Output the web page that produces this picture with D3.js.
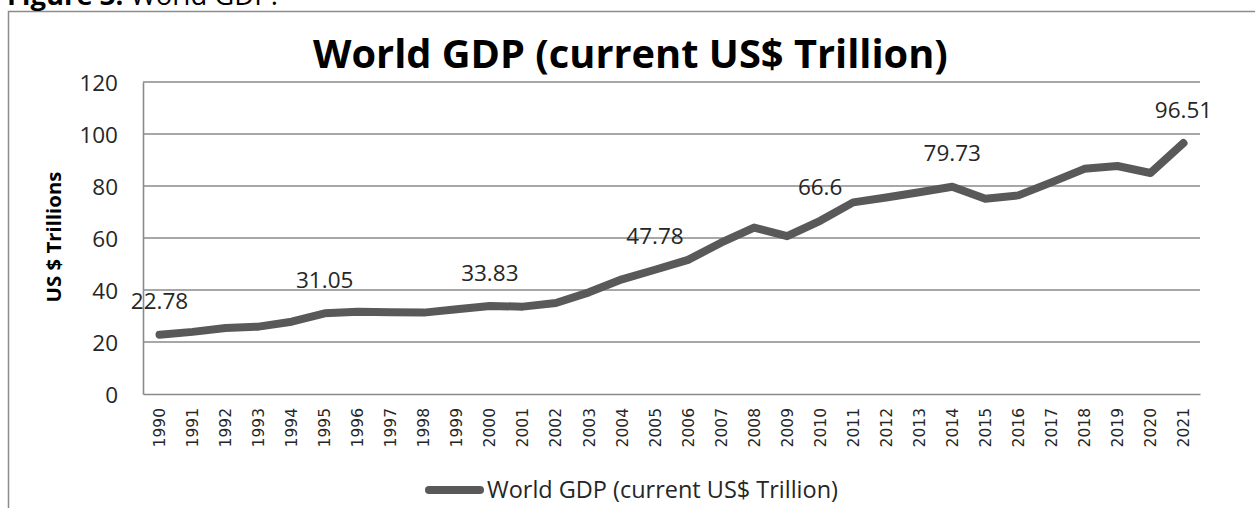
<!DOCTYPE html>
<html>
<head>
<meta charset="utf-8">
<script src="https://cdn.jsdelivr.net/npm/d3@7"></script>
<style>
  html, body { margin: 0; padding: 0; background: #fff; }
  svg { display: block; }
</style>
</head>
<body>
<svg id="chart" width="1255" height="508"></svg>
<script>
// World GDP, current US$ trillion
const years = ["1990","1991","1992","1993","1994","1995","1996","1997","1998","1999",
               "2000","2001","2002","2003","2004","2005","2006","2007","2008","2009",
               "2010","2011","2012","2013","2014","2015","2016","2017","2018","2019",
               "2020","2021"];
const gdp = [22.78, 23.9, 25.4, 25.9, 27.8, 31.05, 31.6, 31.4, 31.3, 32.6,
             33.83, 33.6, 35.0, 39.1, 44.1, 47.78, 51.6, 58.2, 64.0, 60.7,
             66.6, 73.7, 75.6, 77.6, 79.73, 75.1, 76.4, 81.4, 86.6, 87.7,
             85.0, 96.51];
// years whose value is printed above the line
const labelledYears = ["1990","1995","2000","2005","2010","2014","2021"];
const yTicks = [0, 20, 40, 60, 80, 100, 120];

const captionBold = "Figure 3:";
const captionRest = " World GDP:";
const chartTitle = "World GDP (current US$ Trillion)";
const yAxisTitle = "US $ Trillions";
const legendLabel = "World GDP (current US$ Trillion)";

const svg = d3.select("#chart");
const gridColor = "#8a8a8a";
const lineColor = "#595959";
const textColor = "#262626";
const sans = "'Open Sans', 'Noto Sans', sans-serif";

// shrink or grow a text element's font size so it spans a given width
function fitWidth(sel, target) {
  const node = sel.node();
  const fs = parseFloat(sel.attr("font-size"));
  const w = node.getComputedTextLength();
  sel.attr("font-size", (fs * target / w).toFixed(2));
}

// outer frame (left and top edges)
svg.append("path")
  .attr("d", "M8.5,508 V11.5 H1255")
  .attr("fill", "none")
  .attr("stroke", "#8c8c8c")
  .attr("stroke-width", 1.5);

// caption above the frame
const cap = svg.append("text")
  .attr("x", 7).attr("y", 5)
  .attr("font-family", sans).attr("font-size", 21)
  .attr("fill", "#000");
cap.append("tspan").attr("font-weight", "bold").text(captionBold);
cap.append("tspan").text(captionRest);
fitWidth(cap, 271);

const x = d3.scaleBand().domain(years).range([143, 1200]).paddingInner(0).paddingOuter(0);
const y = d3.scaleLinear().domain([0, 120]).range([394, 82]);
const cx = d => x(d) + x.bandwidth() / 2;

// horizontal gridlines
svg.append("g")
  .selectAll("line")
  .data(yTicks.filter(t => t > 0))
  .join("line")
  .attr("x1", 143).attr("x2", 1200)
  .attr("y1", d => y(d)).attr("y2", d => y(d))
  .attr("stroke", gridColor).attr("stroke-width", 1.6);

// y axis
const yAxis = svg.append("g")
  .attr("transform", "translate(143,0)")
  .call(d3.axisLeft(y).tickValues(yTicks).tickSize(0).tickPadding(25));
yAxis.select(".domain").attr("stroke", gridColor).attr("stroke-width", 1.6);
yAxis.selectAll("text")
  .attr("font-family", sans).attr("font-size", 22.5)
  .attr("fill", textColor).attr("dy", "0.36em");

// x axis
const xAxis = svg.append("g")
  .attr("transform", "translate(0,394)")
  .call(d3.axisBottom(x).tickSize(0).tickPadding(0));
xAxis.select(".domain").attr("stroke", gridColor).attr("stroke-width", 1.6);
xAxis.selectAll("text")
  .attr("font-family", "'DejaVu Sans', sans-serif")
  .attr("font-size", 15.5)
  .attr("fill", textColor)
  .attr("text-anchor", "end")
  .attr("transform", "translate(0,14) rotate(-90)")
  .attr("x", 0).attr("y", 0)
  .attr("dy", "0.36em");

// y axis title
const yt = svg.append("text")
  .attr("transform", "translate(61,237) rotate(-90)")
  .attr("text-anchor", "middle")
  .attr("font-family", sans).attr("font-weight", "bold").attr("font-size", 18)
  .attr("fill", "#000")
  .text(yAxisTitle);
fitWidth(yt, 131);

// chart title
const title = svg.append("text")
  .attr("x", 313).attr("y", 68)
  .attr("font-family", sans).attr("font-weight", "bold").attr("font-size", 34)
  .attr("fill", "#000")
  .text(chartTitle);
fitWidth(title, 635);

// GDP line
const series = years.map((yr, i) => ({ yr, v: gdp[i] }));
svg.append("path")
  .datum(series)
  .attr("fill", "none")
  .attr("stroke", lineColor)
  .attr("stroke-width", 8)
  .attr("stroke-linejoin", "round")
  .attr("stroke-linecap", "round")
  .attr("d", d3.line().x(d => cx(d.yr)).y(d => y(d.v)));

// value labels
svg.append("g")
  .selectAll("text")
  .data(series.filter(d => labelledYears.includes(d.yr)))
  .join("text")
  .attr("x", d => cx(d.yr))
  .attr("y", d => y(d.v) - 25.5)
  .attr("text-anchor", "middle")
  .attr("font-family", sans).attr("font-size", 22.5)
  .attr("fill", textColor)
  .text(d => d.v);

// legend
svg.append("line")
  .attr("x1", 429).attr("x2", 480)
  .attr("y1", 490).attr("y2", 490)
  .attr("stroke", lineColor).attr("stroke-width", 8)
  .attr("stroke-linecap", "round");
const lg = svg.append("text")
  .attr("x", 487).attr("y", 498)
  .attr("font-family", sans).attr("font-size", 21)
  .attr("fill", textColor)
  .text(legendLabel);
fitWidth(lg, 351);
</script>
</body>
</html>
